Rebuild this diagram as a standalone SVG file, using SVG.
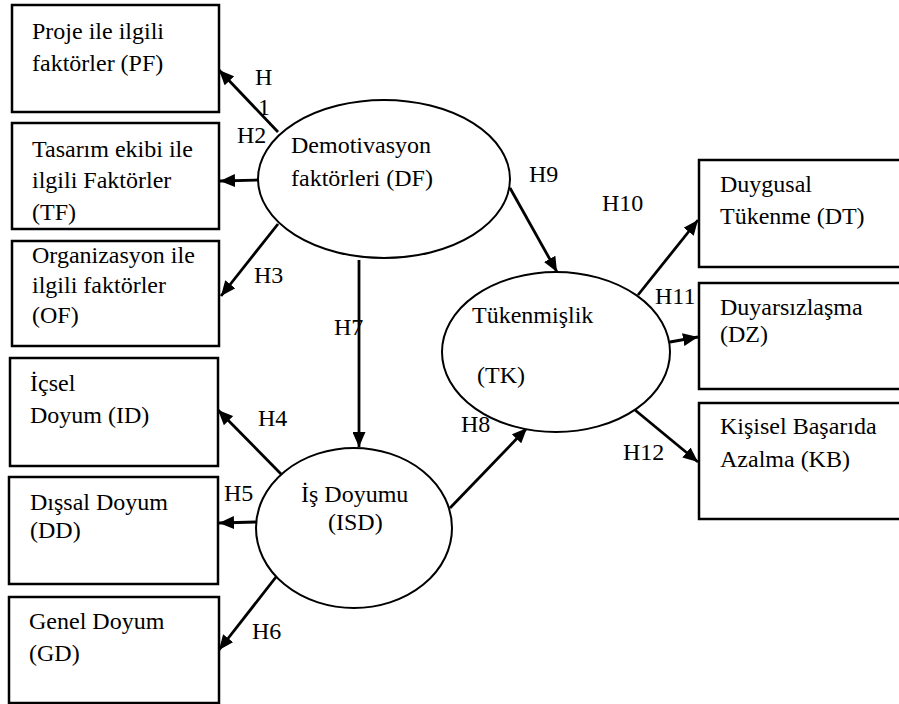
<svg xmlns="http://www.w3.org/2000/svg" width="899" height="704" viewBox="0 0 899 704">
<style>
svg text{font-family:Liberation Serif, Times New Roman, serif !important;font-size:24px;fill:#000}
.box{fill:#fff;stroke:#000;stroke-width:2.5}
.ell{fill:#fff;stroke:#000;stroke-width:2}
</style>
<defs>
<marker id="ah" markerUnits="userSpaceOnUse" markerWidth="16" markerHeight="13" refX="15" refY="6.5" orient="auto">
<path d="M0,0 L15,6.5 L0,13 z" fill="#000"/>
</marker>
</defs>
<rect width="899" height="704" fill="#fff"/>

<g id="connectors" stroke="#000" stroke-width="2.8" fill="none" marker-end="url(#ah)">
<line x1="278" y1="132" x2="219" y2="70"/>
<line x1="258" y1="180" x2="220" y2="181"/>
<line x1="278" y1="224" x2="221" y2="296"/>
<line x1="282" y1="475" x2="218" y2="410"/>
<line x1="256" y1="522" x2="219" y2="523"/>
<line x1="276" y1="577" x2="219" y2="650"/>
<line x1="359" y1="260" x2="359" y2="447"/>
<line x1="510" y1="188" x2="557" y2="272"/>
<line x1="450" y1="508" x2="527" y2="428"/>
<line x1="638" y1="295" x2="698" y2="220"/>
<line x1="670" y1="342" x2="698" y2="337"/>
<line x1="635" y1="410" x2="698" y2="462"/>
</g>

<g id="PF"><rect class="box" x="12" y="5" width="207" height="107"/>
<text style="font-family:Liberation Serif, serif !important" x="32" y="39">Proje ile ilgili</text><text style="font-family:Liberation Serif, serif !important" x="32" y="71">faktörler (PF)</text></g>
<g id="TF"><rect class="box" x="12" y="123" width="207" height="106"/>
<text style="font-family:Liberation Serif, serif !important" x="32" y="157">Tasarım ekibi ile</text><text style="font-family:Liberation Serif, serif !important" x="32" y="188">ilgili Faktörler</text>
<text style="font-family:Liberation Serif, serif !important" x="32" y="220">(TF)</text></g>
<g id="OF"><rect class="box" x="12" y="241" width="207" height="105"/>
<text style="font-family:Liberation Serif, serif !important" x="32" y="263">Organizasyon ile</text><text style="font-family:Liberation Serif, serif !important" x="32" y="293">ilgili faktörler</text><text style="font-family:Liberation Serif, serif !important" x="32" y="323">(OF)</text></g>
<g id="ID"><rect class="box" x="10" y="358" width="208" height="108"/>
<text style="font-family:Liberation Serif, serif !important" x="30" y="391">İçsel</text><text style="font-family:Liberation Serif, serif !important" x="30" y="423">Doyum (ID)</text></g>
<g id="DD"><rect class="box" x="9" y="477" width="209" height="107"/>
<text style="font-family:Liberation Serif, serif !important" x="30" y="510">Dışsal Doyum</text><text style="font-family:Liberation Serif, serif !important" x="30" y="538">(DD)</text></g>
<g id="GD"><rect class="box" x="9" y="597" width="210" height="106"/>
<text style="font-family:Liberation Serif, serif !important" x="29" y="629">Genel Doyum</text><text style="font-family:Liberation Serif, serif !important" x="29" y="661">(GD)</text></g>

<g id="DT"><rect class="box" x="699" y="160" width="210" height="107"/>
<text style="font-family:Liberation Serif, serif !important" x="720" y="192">Duygusal</text><text style="font-family:Liberation Serif, serif !important" x="720" y="224">Tükenme (DT)</text></g>
<g id="DZ"><rect class="box" x="699" y="283" width="210" height="106"/>
<text style="font-family:Liberation Serif, serif !important" x="720" y="315">Duyarsızlaşma</text><text style="font-family:Liberation Serif, serif !important" x="720" y="342">(DZ)</text></g>
<g id="KB"><rect class="box" x="699" y="403" width="210" height="116"/>
<text style="font-family:Liberation Serif, serif !important" x="720" y="434">Kişisel Başarıda</text><text style="font-family:Liberation Serif, serif !important" x="720" y="467">Azalma (KB)</text></g>

<g id="DF"><ellipse class="ell" cx="384" cy="179" rx="126" ry="79"/>
<text style="font-family:Liberation Serif, serif !important" x="291" y="153">Demotivasyon</text><text style="font-family:Liberation Serif, serif !important" x="291" y="186">faktörleri (DF)</text></g>
<g id="ISD"><ellipse class="ell" cx="354" cy="528" rx="98" ry="80"/>
<text style="font-family:Liberation Serif, serif !important" x="301" y="502">İş Doyumu</text><text style="font-family:Liberation Serif, serif !important" x="328" y="530">(ISD)</text></g>
<g id="TK"><ellipse class="ell" cx="556" cy="352" rx="114" ry="80"/>
<text style="font-family:Liberation Serif, serif !important" x="472" y="323">Tükenmişlik</text><text style="font-family:Liberation Serif, serif !important" x="477" y="383">(TK)</text></g>

<g id="labels">
<text style="font-family:Liberation Serif, serif !important" x="255" y="85">H</text>
<text style="font-family:Liberation Serif, serif !important" x="258" y="115">1</text>
<text style="font-family:Liberation Serif, serif !important" x="237" y="143">H2</text>
<text style="font-family:Liberation Serif, serif !important" x="254" y="283">H3</text>
<text style="font-family:Liberation Serif, serif !important" x="258" y="426">H4</text>
<text style="font-family:Liberation Serif, serif !important" x="224" y="501">H5</text>
<text style="font-family:Liberation Serif, serif !important" x="252" y="639">H6</text>
<text style="font-family:Liberation Serif, serif !important" x="334" y="335">H7</text>
<text style="font-family:Liberation Serif, serif !important" x="461" y="432">H8</text>
<text style="font-family:Liberation Serif, serif !important" x="529" y="182">H9</text>
<text style="font-family:Liberation Serif, serif !important" x="602" y="211">H10</text>
<text style="font-family:Liberation Serif, serif !important" x="655" y="304">H11</text>
<text style="font-family:Liberation Serif, serif !important" x="623" y="460">H12</text>
</g>
</svg>
